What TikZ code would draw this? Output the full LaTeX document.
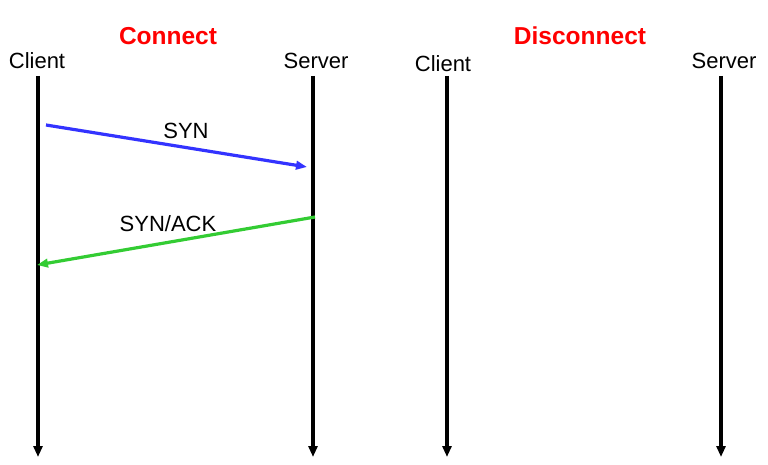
\documentclass[tikz,border=0pt]{standalone}
\usepackage{fontspec}
\setmainfont{Liberation Sans}
\usetikzlibrary{arrows.meta}
\definecolor{synblue}{RGB}{51,51,255}
\definecolor{ackgreen}{RGB}{51,204,51}
\begin{document}
\begin{tikzpicture}[x=1pt,y=1pt,
  lbl/.style={font=\fontsize{22}{24}\selectfont, anchor=base, inner sep=0pt},
  ttl/.style={font=\fontsize{24.5}{26}\selectfont\bfseries, text=red, anchor=base, inner sep=0pt},
  lifeline/.style={line width=3.4pt, -{Triangle[length=11pt,width=9pt]}},
  msg/.style={line width=3.2pt, -{Triangle[length=11pt,width=8.5pt]}}]
\useasboundingbox (0,0) rectangle (768,-465);
% titles
\node[ttl] (connect) at (168,-44.5) {Connect};
\node[ttl] (disconnect) at (580,-44.5) {Disconnect};
% column labels
\node[lbl] (client1) at (37,-69) {Client};
\node[lbl] (server1) at (316,-69) {Server};
\node[lbl] (client2) at (443,-72) {Client};
\node[lbl] (server2) at (724,-69) {Server};
% lifeline ends
\coordinate (c1t) at (38,-76);  \coordinate (c1b) at (38,-457);
\coordinate (s1t) at (313,-76); \coordinate (s1b) at (313,-457);
\coordinate (c2t) at (447,-76); \coordinate (c2b) at (447,-457);
\coordinate (s2t) at (721,-76); \coordinate (s2b) at (721,-457);
\draw[lifeline] (c1t) -- (c1b);
\draw[lifeline] (s1t) -- (s1b);
\draw[lifeline] (c2t) -- (c2b);
\draw[lifeline] (s2t) -- (s2b);
% messages
\coordinate (synA) at (46,-125);  \coordinate (synB) at (307,-167);
\coordinate (ackA) at (315,-217); \coordinate (ackB) at (37,-265);
\draw[msg, synblue] (synA) -- (synB);
\draw[msg, ackgreen] (ackA) -- (ackB);
\node[lbl] (syn) at (186,-139) {SYN};
\node[lbl] (synack) at (168,-232) {SYN/ACK};
\end{tikzpicture}
\end{document}
